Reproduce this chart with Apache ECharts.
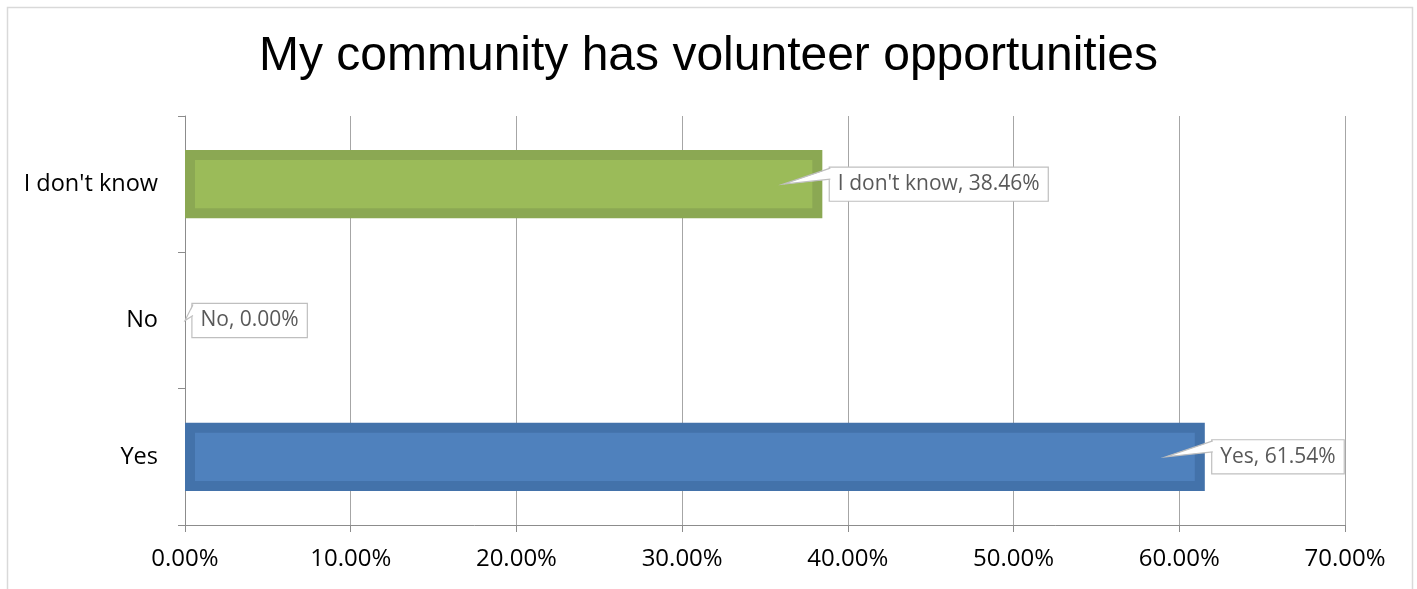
<!DOCTYPE html>
<html>
<head>
<meta charset="utf-8">
<script src="https://cdn.jsdelivr.net/npm/echarts@6/dist/echarts.min.js"></script>
<style>
html,body{margin:0;padding:0;background:#fff;}
#chart{width:1417px;height:589px;}
</style>
</head>
<body>
<div id="chart"></div>
<script>
const titleText = 'My community has volunteer opportunities';
const categories = ['Yes', 'No', "I don't know"];
const values = [0.6154, 0.0, 0.3846];
const xTicks = [0, 0.1, 0.2, 0.3, 0.4, 0.5, 0.6, 0.7];
const fillInner = ['#4F81BD', '#9BBB59', '#9BBB59'];
const fillOuter = ['#4372AA', '#8BA853', '#8BA853'];

const chart = echarts.init(document.getElementById('chart'), null, {renderer: 'canvas'});

function pct(v) { return (v * 100).toFixed(2) + '%'; }

const option = {
  animation: false,
  backgroundColor: '#fff',
  title: {
    text: titleText,
    left: 'center',
    top: 28,
    textStyle: {fontFamily: 'Liberation Sans', fontSize: 48, fontWeight: 'normal', color: '#000'}
  },
  graphic: [{
    type: 'rect',
    shape: {x: 7.5, y: 7.5, width: 1405, height: 620},
    style: {fill: 'none', stroke: '#D9D9D9', lineWidth: 1.5},
    silent: true, z: -1
  }],
  grid: {left: 185, right: 72, top: 116, bottom: 64, containLabel: false},
  xAxis: {
    type: 'value',
    min: xTicks[0], max: xTicks[xTicks.length - 1], interval: 0.1,
    axisLine: {show: true, lineStyle: {color: '#8C8C8C', width: 1}},
    axisTick: {show: true, length: 7, lineStyle: {color: '#8C8C8C'}},
    splitLine: {show: true, lineStyle: {color: '#A6A6A6', width: 1}},
    axisLabel: {
      formatter: v => pct(v), margin: 22,
      fontFamily: 'Open Sans', fontSize: 24, color: '#000'
    }
  },
  yAxis: {
    type: 'category',
    data: categories,
    axisLine: {show: true, lineStyle: {color: '#8C8C8C', width: 1}},
    axisTick: {show: true, length: 7, alignWithLabel: false, lineStyle: {color: '#8C8C8C'}},
    axisLabel: {margin: 27, fontFamily: 'Open Sans', fontSize: 23.5, color: '#000'},
    splitLine: {show: false}
  },
  series: [{
    type: 'custom',
    clip: false,
    encode: {x: 0, y: 1},
    data: values.map((v, i) => [v, i]),
    renderItem: function (params, api) {
      const val = api.value(0);
      const cat = api.value(1);
      const start = api.coord([0, cat]);
      const end = api.coord([val, cat]);
      const bandH = api.size([0, 1])[1];
      const h = bandH * 0.5;
      const cy = end[1];
      const children = [];
      if (val > 0) {
        const w = end[0] - start[0];
        children.push({type: 'rect', shape: {x: start[0], y: cy - h / 2, width: w, height: h},
          style: {fill: fillOuter[cat]}});
        children.push({type: 'rect', shape: {x: start[0] + 10, y: cy - h / 2 + 10, width: w - 20, height: h - 20},
          style: {fill: fillInner[cat]}});
      }
      const tipX = val > 0 ? end[0] - 39 : end[0];
      const boxX = end[0] + 7.5;
      const boxH = 38;
      const boxTop = cy - boxH / 2;
      children.push({type: 'text', x: boxX, y: cy,
        style: {text: categories[cat] + ', ' + pct(val), fontFamily: 'Open Sans', fontSize: 21,
          fill: '#595959', align: 'left', verticalAlign: 'middle',
          backgroundColor: '#fff', borderColor: '#BFBFBF', borderWidth: 1.2, padding: [6, 8, 6, 8]}});
      children.push({type: 'polygon', shape: {points: [[boxX + 1.5, boxTop + 3], [tipX, cy], [boxX + 1.5, boxTop + 14]]},
        style: {fill: '#fff'}});
      children.push({type: 'polyline', shape: {points: [[boxX + 0.5, boxTop + 3], [tipX, cy], [boxX + 0.5, boxTop + 14]]},
        style: {stroke: '#BFBFBF', lineWidth: 1.2, fill: null}});
      return {type: 'group', children: children};
    }
  }]
};
chart.setOption(option);
</script>
</body>
</html>
